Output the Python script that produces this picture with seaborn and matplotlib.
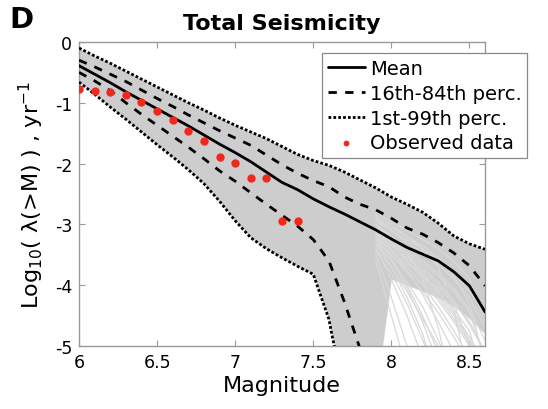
"""
Total Seismicity - magnitude-frequency (panel D)
"""
import numpy as np
import pandas as pd
import matplotlib
matplotlib.use("Agg")
import matplotlib.pyplot as plt
import seaborn as sns

sns.set_theme(style="white")
plt.rcParams["font.family"] = ["DejaVu Sans"]
plt.rcParams["axes.unicode_minus"] = False
plt.rcParams["text.color"] = "black"
plt.rcParams["axes.labelcolor"] = "black"

# magnitude grid
MAGS = [6.0, 6.1, 6.2, 6.3, 6.4, 6.5, 6.6, 6.7, 6.8, 6.9, 7.0, 7.1, 7.2, 7.3,
        7.4, 7.5, 7.6, 7.7, 7.8, 7.9, 8.0, 8.1, 8.2, 8.3, 8.4, 8.5, 8.6]

# log10 annual rate of exceedance (values below -5 are off the axis)
MEAN = [-0.39, -0.53, -0.67, -0.82, -0.96, -1.10, -1.24, -1.38, -1.53, -1.68,
        -1.82, -1.97, -2.14, -2.31, -2.43, -2.58, -2.71, -2.83, -2.96, -3.09,
        -3.24, -3.38, -3.49, -3.60, -3.78, -4.01, -4.44]
P84 = [-0.30, -0.41, -0.53, -0.65, -0.79, -0.93, -1.06, -1.20, -1.33, -1.46,
       -1.58, -1.70, -1.86, -2.02, -2.16, -2.28, -2.38, -2.55, -2.67, -2.76,
       -2.90, -3.06, -3.16, -3.30, -3.47, -3.68, -4.01]
P16 = [-0.50, -0.64, -0.80, -1.00, -1.19, -1.37, -1.55, -1.73, -1.92, -2.12,
       -2.29, -2.48, -2.67, -2.85, -3.03, -3.25, -3.60, -4.28, -5.05, -6.50,
       -8.0, -8.0, -8.0, -8.0, -8.0, -8.0, -8.0]
P99 = [-0.10, -0.23, -0.35, -0.48, -0.61, -0.74, -0.87, -1.00, -1.12, -1.25,
       -1.37, -1.48, -1.59, -1.72, -1.85, -1.95, -2.03, -2.14, -2.27, -2.40,
       -2.55, -2.67, -2.80, -2.98, -3.19, -3.32, -3.41]
P1 = [-0.66, -0.86, -1.07, -1.27, -1.48, -1.69, -1.89, -2.10, -2.33, -2.62,
      -2.94, -3.22, -3.40, -3.55, -3.69, -3.82, -4.56, -5.85, -8.0, -8.0,
      -8.0, -8.0, -8.0, -8.0, -8.0, -8.0, -8.0]
# lower edge of the dense cloud of simulated curves
FAN_LO = [-0.66, -0.86, -1.07, -1.27, -1.48, -1.69, -1.89, -2.10, -2.33, -2.62,
          -2.94, -3.22, -3.40, -3.55, -3.69, -3.82, -4.56, -5.85, -5.85, -5.85,
          -3.90, -4.00, -4.10, -4.20, -4.35, -4.55, -4.80]

# individual simulated curves in the sparse tail
TAIL_MAGS = [7.9, 8.0, 8.1, 8.2, 8.3, 8.4, 8.5, 8.6]
TAILS = [
    [-3.30, -3.70, -4.20, -4.80, -5.60, -6.50, -7.00, -7.50],
    [-3.20, -3.55, -4.00, -4.50, -5.10, -5.80, -6.50, -7.00],
    [-3.40, -3.90, -4.50, -5.20, -6.00, -6.80, -7.50, -8.00],
    [-3.10, -3.40, -3.75, -4.15, -4.60, -5.10, -5.70, -6.30],
    [-3.25, -3.50, -3.80, -4.10, -4.45, -4.85, -5.30, -5.80],
    [-3.00, -3.30, -3.60, -3.90, -4.20, -4.55, -4.95, -5.40],
    [-3.15, -3.45, -3.70, -3.95, -4.25, -4.60, -5.00, -5.50],
    [-3.50, -4.20, -5.00, -5.80, -6.50, -7.00, -7.50, -8.00],
    [-3.20, -3.45, -3.65, -3.85, -4.05, -4.30, -4.60, -5.10],
    [-3.05, -3.25, -3.45, -3.65, -3.85, -4.10, -4.45, -5.20],
    [-3.35, -3.60, -3.95, -4.35, -4.90, -5.50, -6.20, -6.80],
    [-3.00, -3.20, -3.40, -3.60, -3.80, -4.05, -4.40, -4.90],
    [-3.30, -3.50, -3.75, -4.00, -4.35, -4.75, -5.20, -5.80],
    [-3.45, -3.80, -4.30, -4.90, -5.50, -6.20, -6.80, -7.50],
    [-3.10, -3.35, -3.55, -3.80, -4.10, -4.45, -4.85, -5.30],
    [-2.90, -3.10, -3.30, -3.45, -3.65, -3.90, -4.20, -4.70],
    [-2.80, -2.95, -3.10, -3.25, -3.40, -3.60, -3.90, -4.60],
    [-2.85, -3.00, -3.20, -3.40, -3.60, -3.85, -4.30, -5.30],
    [-2.95, -3.10, -3.25, -3.40, -3.70, -4.40, -5.60, -6.50],
    [-3.00, -3.20, -3.45, -3.90, -4.70, -5.80, -6.50, -7.00],
    [-3.60, -4.50, -5.40, -6.30, -7.00, -7.50, -8.00, -8.50],
    [-3.30, -3.60, -4.05, -4.60, -5.30, -6.00, -6.60, -7.20],
    [-3.10, -3.30, -3.50, -3.70, -3.95, -4.25, -4.65, -5.10],
    [-3.20, -3.40, -3.60, -3.85, -4.15, -4.50, -4.90, -5.40],
    [-3.00, -3.25, -3.50, -3.80, -4.10, -4.40, -4.75, -5.60],
    [-2.90, -3.05, -3.20, -3.35, -3.55, -3.80, -4.10, -4.45],
    [-3.40, -3.70, -4.10, -4.55, -5.00, -5.50, -6.00, -6.60],
    [-3.15, -3.35, -3.55, -3.75, -4.00, -4.30, -5.00, -6.00],
]

OBS_MAG = [6.0, 6.1, 6.2, 6.3, 6.4, 6.5, 6.6, 6.7, 6.8, 6.9, 7.0, 7.1, 7.2, 7.3, 7.4]
OBS_LOG = [-0.77, -0.80, -0.82, -0.87, -0.98, -1.13, -1.28, -1.46, -1.63, -1.90,
           -1.99, -2.24, -2.24, -2.95, -2.95]

XTICKS = [6, 6.5, 7, 7.5, 8, 8.5]
XTICKLABELS = ["6", "6.5", "7", "7.5", "8", "8.5"]
YTICKS = [0, -1, -2, -3, -4, -5]

GRAY = "#cdcdcd"
SIM = "#d9d9d9"
RED = "#f0281e"
AX_COLOR = "#9a9a9a"

tails = pd.DataFrame(
    [(m, v, k) for k, row in enumerate(TAILS) for m, v in zip(TAIL_MAGS, row)],
    columns=["mag", "lograte", "sim"],
)

fig = plt.figure(figsize=(5.48, 4.10), dpi=100)
ax = fig.add_axes([0.1442, 0.1537, 0.7409, 0.7415])

ax.fill_between(MAGS, P99, FAN_LO, color=GRAY, lw=0, zorder=1)
sns.lineplot(data=tails, x="mag", y="lograte", units="sim", estimator=None,
             color=SIM, lw=0.9, legend=False, ax=ax, zorder=1.5)

sns.lineplot(x=MAGS, y=MEAN, color="black", lw=2, label="Mean", ax=ax, zorder=4)
sns.lineplot(x=MAGS, y=P84, color="black", lw=2, linestyle=(0, (3, 3)),
             label="16th-84th perc.", ax=ax, zorder=4)
sns.lineplot(x=MAGS, y=P16, color="black", lw=2, linestyle=(0, (3, 3)),
             ax=ax, zorder=4)
sns.lineplot(x=MAGS, y=P99, color="black", lw=2, linestyle=(0, (1, 0.75)),
             label="1st-99th perc.", ax=ax, zorder=4)
sns.lineplot(x=MAGS, y=P1, color="black", lw=2, linestyle=(0, (1, 0.75)),
             ax=ax, zorder=4)
sns.scatterplot(x=OBS_MAG, y=OBS_LOG, color=RED, s=36, linewidth=0,
                label="Observed data", ax=ax, zorder=5)

ax.set_xlim(6, 8.6)
ax.set_ylim(-5, 0)
ax.set_xticks(XTICKS)
ax.set_xticklabels(XTICKLABELS)
ax.set_yticks(YTICKS)
ax.set_yticklabels([str(t) for t in YTICKS])
ax.tick_params(direction="in", length=4, width=0.8, color=AX_COLOR,
               labelsize=12.5, pad=5, top=True, right=True,
               bottom=True, left=True, labelcolor="black")
for s in ax.spines.values():
    s.set_color(AX_COLOR)
    s.set_linewidth(1)
    s.set_visible(True)

ax.set_xlabel("Magnitude", fontsize=16, labelpad=3)
ax.set_ylabel("Log$_{10}$( λ(>M) ) , yr$^{-1}$", fontsize=16, labelpad=6)
ax.set_title("Total Seismicity", fontsize=16, fontweight="bold", pad=9,
             color="black")
fig.text(0.018, 0.985, "D", fontsize=21, fontweight="bold", va="top",
         ha="left", color="black")

handles, labels = ax.get_legend_handles_labels()
order = ["Mean", "16th-84th perc.", "1st-99th perc.", "Observed data"]
hmap = dict(zip(labels, handles))
leg = ax.legend([hmap[k] for k in order], order, loc="upper left",
                bbox_to_anchor=(0.5876, 0.868), bbox_transform=fig.transFigure,
                fontsize=14, borderpad=0.3, handlelength=1.9,
                handletextpad=0.25, labelspacing=0.3, borderaxespad=0,
                fancybox=False, framealpha=1, markerscale=0.7)
leg.get_frame().set_edgecolor("#888888")
leg.get_frame().set_linewidth(0.9)
leg.set_zorder(10)
for t in leg.get_texts():
    t.set_color("black")

fig.savefig("out.png", dpi=100)
plt.close(fig)
print("out.png")
